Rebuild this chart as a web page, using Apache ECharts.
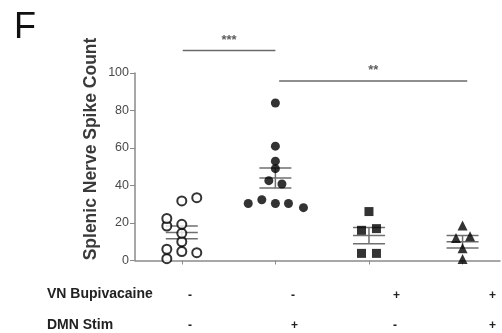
<!DOCTYPE html>
<html>
<head>
<meta charset="utf-8">
<script src="https://cdn.jsdelivr.net/npm/echarts@6/dist/echarts.min.js"></script>
<style>
  html, body { margin: 0; padding: 0; background: #fff; }
  #chart { width: 502px; height: 333px; }
</style>
</head>
<body>
<div id="chart"></div>
<script>
// group x positions are 1..4; small offsets are the horizontal scatter seen in the figure
const ctrl = [[0.84, 1], [0.84, 6], [0.84, 18.4], [0.84, 22.4], [1, 4.8], [1, 10], [1, 14.5], [1, 19.3], [1, 31.8], [1.16, 4.2], [1.16, 33.5]]
const stim = [[0.71, 30.4], [0.855, 32.4], [1, 30.4], [1.14, 30.4], [1.3, 28.2], [0.93, 42.6], [1.07, 40.8], [1, 49], [1, 53], [1, 61], [1, 84]]
const bupi = [[1, 26.1], [0.92, 16.1], [1.08, 17], [0.92, 3.8], [1.08, 3.8]]
const bupiStim = [[1, 18.7], [0.93, 12], [1.08, 12.9], [1, 6.6], [1, 0.8]]

const groupMean = [15, 44, 13.3, 10]
const groupSem = [3.4, 5.3, 4.3, 3.3]

const bupiRow = ['-', '-', '+', '+']
const stimRow = ['-', '+', '-', '+']

const shift = (pts, g) => pts.map(([dx, y]) => [g + dx - 1, y])

const font = "'Liberation Sans', Arial, Helvetica, sans-serif"
const chart = echarts.init(document.getElementById('chart'), null, { renderer: 'canvas' })

const dotSeries = (data, symbol, size, open) => ({
  type: 'scatter',
  data,
  symbol,
  symbolSize: size,
  z: 5,
  itemStyle: open
    ? { color: '#fff', borderColor: '#000', borderWidth: 2 }
    : { color: '#000' },
})

// mean line, SEM caps and the vertical connector
const errSeries = {
  type: 'custom',
  z: 4,
  data: groupMean.map((m, i) => [i + 1, m, groupSem[i]]),
  renderItem: (params, api) => {
    const x = api.value(0), m = api.value(1), s = api.value(2)
    const pm = api.coord([x, m]), pt = api.coord([x, m + s]), pb = api.coord([x, m - s])
    const hw = 16
    const st = { stroke: '#6f6f6f', lineWidth: 1.5 }
    const seg = (x1, y1, x2, y2) => ({ type: 'line', shape: { x1, y1, x2, y2 }, style: st })
    return {
      type: 'group',
      children: [
        seg(pm[0] - hw, pm[1], pm[0] + hw, pm[1]),
        seg(pt[0] - hw, pt[1], pt[0] + hw, pt[1]),
        seg(pb[0] - hw, pb[1], pb[0] + hw, pb[1]),
        seg(pt[0], pt[1], pb[0], pb[1]),
      ],
    }
  },
}

const bracket = (x1, x2, y, stars) => [
  {
    type: 'line',
    data: [[x1, y], [x2, y]],
    symbol: 'none',
    clip: false,
    silent: true,
    lineStyle: { color: '#6a6a6a', width: 1.5 },
  },
  {
    type: 'scatter',
    data: [[(x1 + x2) / 2, y]],
    symbolSize: 0,
    clip: false,
    label: {
      show: true,
      formatter: stars,
      position: 'top',
      distance: 4,
      color: '#333',
      fontSize: 13,
      fontWeight: 'bold',
      fontFamily: font,
    },
  },
]

const signX = [191, 294, 396, 492]
const rowText = (row, y) =>
  row.map((t, i) => ({
    type: 'text',
    left: signX[i] - 3,
    top: y - 7,
    style: { text: t, font: 'bold 12px ' + font, fill: '#222' },
  }))

chart.setOption({
  animation: false,
  grid: { left: 135, right: 2, top: 73, bottom: 72.5 },
  xAxis: {
    type: 'value',
    min: 0.5,
    max: 4.4,
    axisLine: { lineStyle: { color: '#8a8a8a', width: 1.5 } },
    axisTick: { show: true, customValues: [1, 2, 3, 4], length: 4, lineStyle: { color: '#8a8a8a', width: 1 } },
    axisLabel: { show: false },
    splitLine: { show: false },
  },
  yAxis: {
    type: 'value',
    min: 0,
    max: 100,
    interval: 20,
    axisLine: { show: true, lineStyle: { color: '#8a8a8a', width: 1.5 } },
    axisTick: { show: true, length: 5, lineStyle: { color: '#8a8a8a', width: 1 } },
    axisLabel: { color: '#4a4a4a', fontSize: 12.5, fontFamily: font, margin: 6 },
    splitLine: { show: false },
  },
  graphic: [
    { type: 'text', left: 14, top: 10, style: { text: 'F', font: '36px ' + font, fill: '#111' } },
    {
      type: 'text',
      x: 82,
      y: 149,
      rotation: Math.PI / 2,
      style: {
        text: 'Splenic Nerve Spike Count',
        font: 'bold 17.5px ' + font,
        fill: '#3a3a3a',
        align: 'center',
        verticalAlign: 'top',
      },
    },
    { type: 'text', left: 47, top: 287, style: { text: 'VN Bupivacaine', font: 'bold 14px ' + font, fill: '#222' } },
    { type: 'text', left: 47, top: 318, style: { text: 'DMN Stim', font: 'bold 14px ' + font, fill: '#222' } },
    ...rowText(bupiRow, 297),
    ...rowText(stimRow, 327),
  ],
  series: [
    errSeries,
    dotSeries(shift(ctrl, 1), 'circle', 9, true),
    dotSeries(shift(stim, 2), 'circle', 9, false),
    dotSeries(shift(bupi, 3), 'rect', 9, false),
    dotSeries(shift(bupiStim, 4), 'triangle', 10, false),
    ...bracket(1.01, 2.0, 112, '***'),
    ...bracket(2.04, 4.05, 95.7, '**'),
  ],
})
</script>
</body>
</html>
